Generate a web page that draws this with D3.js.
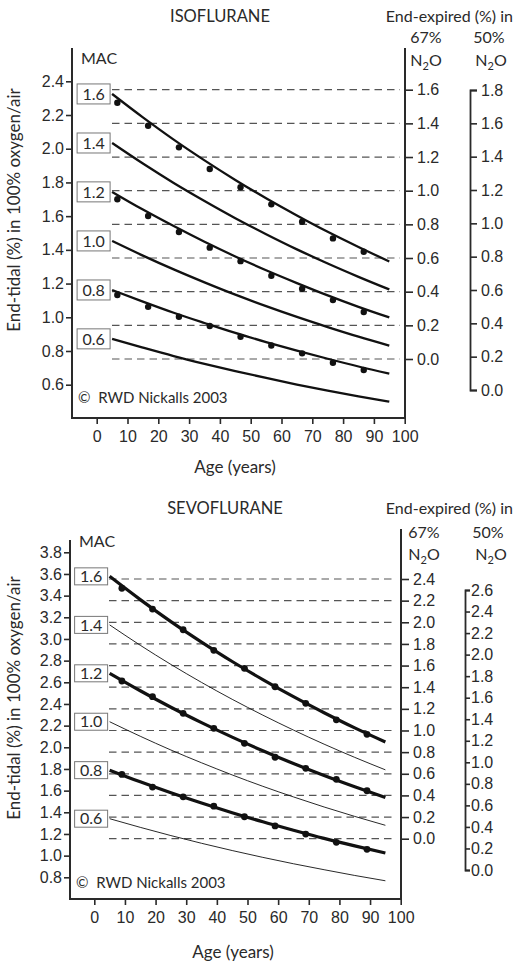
<!DOCTYPE html>
<html>
<head>
<meta charset="utf-8">
<script src="https://cdn.jsdelivr.net/npm/d3@7"></script>
<style>
html,body{margin:0;padding:0;background:#fff;}
svg{display:block;font-family:"Lato","Open Sans",sans-serif;}
</style>
</head>
<body>
<svg id="chart" width="513" height="962"></svg>
<script>
// ---------------- DATA ----------------
const curveAges = [5, 15, 25, 35, 45, 55, 65, 75, 85, 95];
const macLevels = [1.6, 1.4, 1.2, 1.0, 0.8, 0.6];
const ageTicks = [0, 10, 20, 30, 40, 50, 60, 70, 80, 90, 100];

// Isoflurane: end-tidal (%) in 100% oxygen/air at each curve age
const isoCurve16 = [2.325, 2.186, 2.054, 1.931, 1.815, 1.706, 1.604, 1.507, 1.417, 1.331];
const isoCurve14 = [2.034, 1.912, 1.797, 1.690, 1.588, 1.493, 1.403, 1.319, 1.240, 1.165];
const isoCurve12 = [1.744, 1.639, 1.541, 1.448, 1.361, 1.279, 1.203, 1.130, 1.062, 0.999];
const isoCurve10 = [1.453, 1.366, 1.284, 1.207, 1.134, 1.066, 1.002, 0.942, 0.885, 0.832];
const isoCurve08 = [1.162, 1.093, 1.027, 0.966, 0.907, 0.853, 0.802, 0.754, 0.708, 0.666];
const isoCurve06 = [0.872, 0.820, 0.770, 0.724, 0.681, 0.640, 0.601, 0.565, 0.531, 0.499];
const isoDotAges = [6.7, 16.7, 26.7, 36.7, 46.7, 56.7, 66.7, 76.7, 86.7];
const isoDots16 = [2.273, 2.136, 2.008, 1.880, 1.771, 1.670, 1.567, 1.468, 1.389];
const isoDots12 = [1.700, 1.601, 1.506, 1.413, 1.333, 1.246, 1.169, 1.102, 1.031];
const isoDots08 = [1.132, 1.062, 1.003, 0.948, 0.884, 0.833, 0.786, 0.730, 0.687];
const isoLeftTicks = [0.6, 0.8, 1.0, 1.2, 1.4, 1.6, 1.8, 2.0, 2.2, 2.4];
const isoN2O67Ticks = [0.0, 0.2, 0.4, 0.6, 0.8, 1.0, 1.2, 1.4, 1.6];
const isoN2O50Ticks = [0.0, 0.2, 0.4, 0.6, 0.8, 1.0, 1.2, 1.4, 1.6, 1.8];

// Sevoflurane
const sevoCurve16 = [3.578, 3.363, 3.160, 2.971, 2.792, 2.625, 2.467, 2.319, 2.179, 2.049];
const sevoCurve14 = [3.130, 2.942, 2.765, 2.599, 2.443, 2.297, 2.159, 2.029, 1.907, 1.792];
const sevoCurve12 = [2.683, 2.522, 2.370, 2.228, 2.094, 1.968, 1.850, 1.739, 1.635, 1.536];
const sevoCurve10 = [2.236, 2.102, 1.975, 1.857, 1.745, 1.640, 1.542, 1.449, 1.362, 1.280];
const sevoCurve08 = [1.789, 1.681, 1.580, 1.485, 1.396, 1.312, 1.234, 1.159, 1.090, 1.024];
const sevoCurve06 = [1.341, 1.261, 1.185, 1.114, 1.047, 0.984, 0.925, 0.870, 0.817, 0.768];
const sevoDotAges = [9, 19, 29, 39, 49, 59, 69, 79, 89];
const sevoDots16 = [3.468, 3.276, 3.085, 2.895, 2.729, 2.559, 2.406, 2.254, 2.120];
const sevoDots12 = [2.612, 2.467, 2.314, 2.175, 2.037, 1.908, 1.806, 1.704, 1.599];
const sevoDots08 = [1.750, 1.633, 1.543, 1.457, 1.359, 1.274, 1.199, 1.123, 1.058];
const sevoLeftTicks = [0.8, 1.0, 1.2, 1.4, 1.6, 1.8, 2.0, 2.2, 2.4, 2.6, 2.8, 3.0, 3.2, 3.4, 3.6, 3.8];
const sevoN2O67Ticks = [0.0, 0.2, 0.4, 0.6, 0.8, 1.0, 1.2, 1.4, 1.6, 1.8, 2.0, 2.2, 2.4];
const sevoN2O50Ticks = [0.0, 0.2, 0.4, 0.6, 0.8, 1.0, 1.2, 1.4, 1.6, 1.8, 2.0, 2.2, 2.4, 2.6];

// ---------------- DRAW ----------------
const svg = d3.select("#chart");
const fmt = d3.format(".1f");
const FS = 16;
const INK = "#2a2a2a";

function n2oLabel(g, x, y, anchor) {
  const t = g.append("text").attr("x", x).attr("y", y).attr("text-anchor", anchor)
    .attr("font-size", FS).attr("fill", INK);
  t.append("tspan").text("N");
  t.append("tspan").attr("font-size", 11).attr("dy", 4).text("2");
  t.append("tspan").attr("dy", -4).text("O");
}

function panel(cfg) {
  const g = svg.append("g").attr("font-weight", 400);
  const x = d3.scaleLinear().domain([0, 100]).range(cfg.xRange);
  const yL = d3.scaleLinear().domain(cfg.leftDomain).range(cfg.leftRange);
  const y67 = d3.scaleLinear().domain(cfg.r67Domain).range(cfg.r67Range);
  const y50 = d3.scaleLinear().domain(cfg.r50Domain).range(cfg.r50Range);

  // titles
  g.append("text").attr("x", cfg.titleX).attr("y", cfg.titleY).attr("text-anchor", "middle")
    .attr("font-size", 16.5).attr("fill", INK).text(cfg.title);
  g.append("text").attr("x", 513).attr("y", cfg.titleY).attr("text-anchor", "end")
    .attr("font-size", FS).attr("fill", INK).text("End-expired (%) in");
  g.append("text").attr("x", cfg.pct67X).attr("y", cfg.pctY).attr("text-anchor", "middle")
    .attr("font-size", FS).attr("fill", INK).text("67%");
  g.append("text").attr("x", cfg.pct50X).attr("y", cfg.pctY).attr("text-anchor", "middle")
    .attr("font-size", FS).attr("fill", INK).text("50%");
  n2oLabel(g, cfg.n2o67X, cfg.n2oY, "middle");
  n2oLabel(g, cfg.n2o50X, cfg.n2oY, "middle");
  g.append("text").attr("x", cfg.axisLeftX + 9).attr("y", cfg.macY).attr("font-size", FS)
    .attr("fill", INK).text("MAC");

  // dashed grid lines at N2O 67% ticks
  g.append("g").selectAll("line").data(cfg.r67Ticks).join("line")
    .attr("x1", cfg.dashX[0]).attr("x2", cfg.dashX[1])
    .attr("y1", d => y67(d)).attr("y2", d => y67(d))
    .attr("stroke", "#555").attr("stroke-width", 1.2).attr("stroke-dasharray", "7.5,5");

  // x axis
  const xAxis = d3.axisBottom(x).tickValues(ageTicks).tickSize(6).tickSizeOuter(0).tickPadding(7);
  const gx = g.append("g").attr("transform", `translate(0,${cfg.axisBottomY})`).call(xAxis);
  gx.select(".domain").remove();
  gx.append("line").attr("x1", cfg.axisLeftX).attr("x2", cfg.axisRightX).attr("y1", 0).attr("y2", 0)
    .attr("stroke", INK).attr("stroke-width", 2);
  gx.selectAll(".tick line").attr("stroke", INK).attr("stroke-width", 1.6);
  gx.selectAll(".tick text").attr("font-size", FS).attr("fill", INK).attr("font-family", "inherit");

  // left axis
  const yAxis = d3.axisLeft(yL).tickValues(cfg.leftTicks).tickFormat(fmt).tickSize(6).tickPadding(2);
  const gy = g.append("g").attr("transform", `translate(${cfg.axisLeftX},0)`).call(yAxis);
  gy.select(".domain").remove();
  gy.append("line").attr("x1", 0).attr("x2", 0).attr("y1", cfg.axisTopY).attr("y2", cfg.axisBottomY + 1)
    .attr("stroke", INK).attr("stroke-width", 2);
  gy.selectAll(".tick line").attr("stroke", INK).attr("stroke-width", 1.6);
  gy.selectAll(".tick text").attr("font-size", FS).attr("fill", INK).attr("font-family", "inherit");

  // right axis 67%
  const r67 = d3.axisRight(y67).tickValues(cfg.r67Ticks).tickFormat(fmt).tickSize(cfg.r67Tick).tickPadding(cfg.r67Pad);
  const gr = g.append("g").attr("transform", `translate(${cfg.axisRightX},0)`).call(r67);
  gr.select(".domain").remove();
  gr.append("line").attr("x1", 0).attr("x2", 0).attr("y1", cfg.r67TopY).attr("y2", cfg.axisBottomY + 1)
    .attr("stroke", INK).attr("stroke-width", 2);
  gr.selectAll(".tick line").attr("stroke", INK).attr("stroke-width", 1.6);
  gr.selectAll(".tick text").attr("font-size", FS).attr("fill", INK).attr("font-family", "inherit");

  // right axis 50%
  const r50 = d3.axisRight(y50).tickValues(cfg.r50Ticks).tickFormat(fmt).tickSize(cfg.r50Tick).tickPadding(cfg.r50Pad);
  const g5 = g.append("g").attr("transform", `translate(${cfg.r50X},0)`).call(r50);
  g5.select(".domain").attr("stroke", INK).attr("stroke-width", 1.8);
  g5.selectAll(".tick line").attr("stroke", INK).attr("stroke-width", 1.6);
  g5.selectAll(".tick text").attr("font-size", FS).attr("fill", INK).attr("font-family", "inherit");

  // curves
  const line = d3.line().x(d => x(d[0])).y(d => yL(d[1])).curve(d3.curveMonotoneX);
  cfg.curves.forEach((c, i) => {
    const pts = curveAges.map((a, j) => [a, c.values[j]]);
    g.append("path").attr("d", line(pts)).attr("fill", "none").attr("stroke", "#111")
      .attr("stroke-width", c.width).attr("stroke-linecap", "butt");
    // label box
    const bx = x(curveAges[0]) - cfg.boxGap - cfg.boxW;
    const by = yL(c.values[0]);
    g.append("rect").attr("x", bx).attr("y", by - cfg.boxH / 2).attr("width", cfg.boxW).attr("height", cfg.boxH)
      .attr("fill", "#fff").attr("stroke", "#777").attr("stroke-width", 1);
    g.append("text").attr("x", bx + cfg.boxW / 2).attr("y", by).attr("dy", "0.36em")
      .attr("text-anchor", "middle").attr("font-size", FS).attr("fill", INK).text(fmt(macLevels[i]));
  });

  // dots
  cfg.dots.forEach(ds => {
    g.append("g").selectAll("circle").data(ds).join("circle")
      .attr("cx", (d, j) => x(cfg.dotAges[j])).attr("cy", d => yL(d)).attr("r", cfg.dotR).attr("fill", "#111");
  });

  // axis titles
  g.append("text").attr("transform", `translate(${cfg.yTitleX},${cfg.yTitleY}) rotate(-90)`)
    .attr("text-anchor", "middle").attr("font-size", 17).attr("fill", INK)
    .text("End-tidal (%) in 100% oxygen/air");
  g.append("text").attr("x", cfg.xTitleX).attr("y", cfg.xTitleY).attr("text-anchor", "middle")
    .attr("font-size", 17).attr("fill", INK).text("Age (years)");
  g.append("text").attr("x", cfg.axisLeftX + 6).attr("y", cfg.copyY).attr("font-size", 15)
    .attr("fill", INK).text("\u00A9\u00A0\u00A0RWD Nickalls 2003");
}

panel({
  title: "ISOFLURANE", titleX: 220, titleY: 22,
  pctY: 43, pct67X: 426, pct50X: 489, n2oY: 66, n2o67X: 426, n2o50X: 491, macY: 64,
  xRange: [96.7, 404.7], axisLeftX: 72, axisRightX: 405, axisTopY: 48, axisBottomY: 418, r67TopY: 48,
  leftDomain: [0.6, 2.4], leftRange: [384.7, 81.3], leftTicks: isoLeftTicks,
  r67Domain: [0, 1.6], r67Range: [359, 89.7], r67Ticks: isoN2O67Ticks, r67Tick: 8, r67Pad: 4,
  r50Domain: [0, 1.8], r50Range: [390, 90], r50Ticks: isoN2O50Ticks, r50X: 470, r50Tick: 7, r50Pad: 4,
  dashX: [112, 400],
  curves: [
    {values: isoCurve16, width: 2.3}, {values: isoCurve14, width: 2.3}, {values: isoCurve12, width: 2.3},
    {values: isoCurve10, width: 2.3}, {values: isoCurve08, width: 2.3}, {values: isoCurve06, width: 2.3}
  ],
  boxW: 33, boxH: 20, boxGap: 2,
  dotAges: isoDotAges, dots: [isoDots16, isoDots12, isoDots08], dotR: 3.2,
  yTitleX: 20, yTitleY: 210, xTitleX: 235, xTitleY: 473, copyY: 403
});

panel({
  title: "SEVOFLURANE", titleX: 225, titleY: 514,
  pctY: 538, pct67X: 424, pct50X: 488, n2oY: 560, n2o67X: 424, n2o50X: 491, macY: 547,
  xRange: [94.3, 400.7], axisLeftX: 70, axisRightX: 401, axisTopY: 540, axisBottomY: 899, r67TopY: 529,
  leftDomain: [0.8, 3.8], leftRange: [877.3, 552.3], leftTicks: sevoLeftTicks,
  r67Domain: [0, 2.4], r67Range: [838.7, 579], r67Ticks: sevoN2O67Ticks, r67Tick: 8, r67Pad: 4,
  r50Domain: [0, 2.6], r50Range: [870, 590], r50Ticks: sevoN2O50Ticks, r50X: 465, r50Tick: 5, r50Pad: 1,
  dashX: [109, 395],
  curves: [
    {values: sevoCurve16, width: 3.2}, {values: sevoCurve14, width: 0.9}, {values: sevoCurve12, width: 3.2},
    {values: sevoCurve10, width: 0.9}, {values: sevoCurve08, width: 3.2}, {values: sevoCurve06, width: 0.9}
  ],
  boxW: 33, boxH: 17, boxGap: 2,
  dotAges: sevoDotAges, dots: [sevoDots16, sevoDots12, sevoDots08], dotR: 3.4,
  yTitleX: 20, yTitleY: 698, xTitleX: 233, xTitleY: 958, copyY: 888
});
</script>
</body>
</html>
